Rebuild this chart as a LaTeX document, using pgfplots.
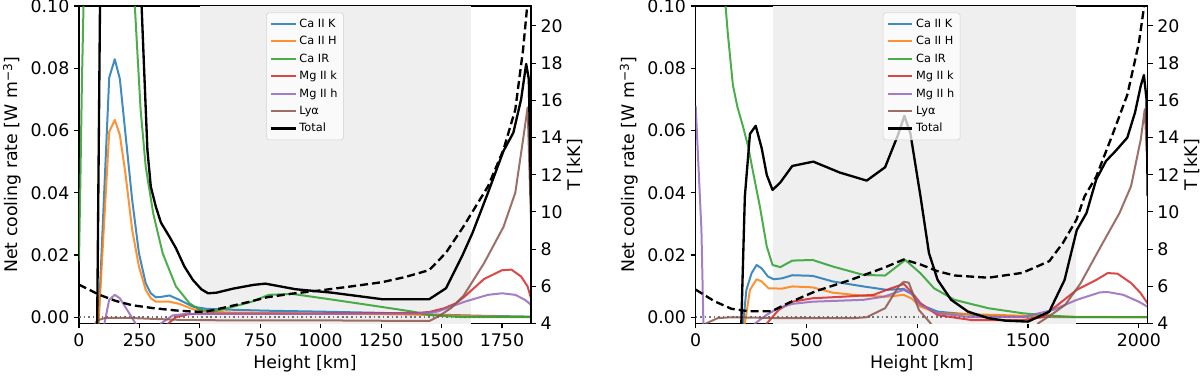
\documentclass[border=0pt]{standalone}
\usepackage{fontspec}
\setmainfont{DejaVu Sans}
\usepackage{pgfplots}
\pgfplotsset{compat=1.18}

\definecolor{cK}{HTML}{1F77B4}
\definecolor{cH}{HTML}{FF7F0E}
\definecolor{cIR}{HTML}{2CA02C}
\definecolor{mk}{HTML}{D62728}
\definecolor{mh}{HTML}{9467BD}
\definecolor{lya}{HTML}{8C564B}
\definecolor{shade}{HTML}{EFEFEF}

\pgfplotsset{
  base/.style={scale only axis, width=339pt, height=238.1pt,
    font=\fontsize{13}{15}\selectfont,
    tick label style={font=\fontsize{13}{15}\selectfont},
    /pgf/number format/assume math mode=true,
    /pgf/number format/1000 sep={},
    tick align=outside, major tick length=3.75pt,
    every tick/.style={black, line width=0.8pt},
    axis line style={line width=0.9pt},
    every axis plot/.append style={no marks, line join=round}},
  main/.style={base, anchor=south west,
    ymin=-0.002, ymax=0.1, ytick={0,0.02,0.04,0.06,0.08,0.1},
    scaled y ticks=false,
    yticklabel style={/pgf/number format/.cd, fixed, fixed zerofill, precision=2},
    xtick pos=bottom, ytick pos=left,
    xlabel={Height [km]}, ylabel={Net cooling rate [W m\textsuperscript{−3}]},
    legend cell align=left,
    legend image code/.code={\draw[##1] (0pt,0pt) -- (18.5pt,0pt);},
    legend style={at={(0.5,0.979)}, anchor=north,
      font=\fontsize{8.5}{10}\selectfont,
      fill=white, fill opacity=0.75, text opacity=1, draw=black!18,
      rounded corners=2pt, row sep=1.2pt, inner sep=2.5pt}},
  twin/.style={base, anchor=south west, ymin=4, ymax=21.07, ytick={4,6,...,20},
    axis y line*=right, axis x line=none, yticklabel pos=right,
    ylabel={T [kK]},
    ylabel style={at={(axis description cs:1.098,0.5)}, anchor=center}},
  cl/.style={line width=1.5pt, opacity=0.85},
  tot/.style={black, line width=1.75pt},
  temp/.style={black, line width=1.75pt, dash pattern=on 6pt off 3pt},
  zero/.style={black!55, line width=1.2pt, dash pattern=on 1.2pt off 2.2pt}
}

\begin{document}
\begin{tikzpicture}
\useasboundingbox (-59.25pt,-42.4pt) rectangle (840.75pt,242.6pt);

% ---------- left panel ----------
\begin{axis}[main, at={(0pt,0pt)}, xmin=0, xmax=1870, xtick={0,250,...,1750}]
  \addplot[fill=shade, draw=none, forget plot] coordinates {(500,-0.01) (1620,-0.01) (1620,0.2) (500,0.2)} -- cycle;
  \addplot[zero, forget plot] coordinates {(0,0) (1870,0)};
  \addplot[cl, cK] coordinates {(80,-0.003) (125,0.077) (148,0.0829) (169,0.0766) (192,0.0591) (220,0.0377) (248,0.0206) (276,0.0109) (297,0.0077) (318,0.0064) (345,0.0066) (374,0.0070) (415,0.0056) (471,0.0034) (527,0.0027) (638,0.0024) (778,0.0021) (1000,0.0018) (1250,0.0014) (1500,0.0008) (1650,0.0005) (1870,0.0002)};
  \addlegendentry{Ca II K}
  \addplot[cl, cH] coordinates {(80,-0.003) (125,0.0596) (148,0.0634) (169,0.0586) (192,0.0463) (220,0.0281) (248,0.0163) (276,0.0088) (297,0.0061) (318,0.0050) (374,0.0050) (415,0.0043) (471,0.0026) (527,0.0018) (638,0.0015) (778,0.0014) (1000,0.0012) (1250,0.0010) (1500,0.0007) (1650,0.0003) (1870,0.0001)};
  \addlegendentry{Ca II H}
  \addplot[cl, cIR] coordinates {(0,0.018) (6,0.045) (12,0.075) (20,0.105) (60,0.2) (200,0.2) (231,0.1) (241,0.0859) (255,0.0666) (276,0.0484) (307,0.0334) (346,0.0206) (401,0.0099) (457,0.0045) (499,0.0024) (555,0.0018) (638,0.0034) (715,0.0050) (785,0.0072) (882,0.0075) (1000,0.0062) (1150,0.0045) (1382,0.0018) (1451,0.0007) (1590,0.0000) (1870,0.0)};
  \addlegendentry{Ca IR}
  \addplot[cl, mk] coordinates {(340,-0.004) (370,-0.002) (400,0.0) (450,0.0009) (500,0.0012) (1000,0.0012) (1400,0.0014) (1450,0.0017) (1511,0.0029) (1560,0.0045) (1596,0.0067) (1676,0.0123) (1750,0.0151) (1789,0.0153) (1829,0.0131) (1856,0.0099) (1870,0.0061)};
  \addlegendentry{Mg II k}
  \addplot[cl, mh] coordinates {(100,-0.004) (125,0.0056) (148,0.0072) (169,0.0061) (199,0.0024) (234,-0.002) (250,-0.004) (320,-0.004) (339,-0.002) (388,0.0006) (443,0.0011) (1000,0.0011) (1400,0.0012) (1483,0.0018) (1596,0.005) (1692,0.0072) (1750,0.0077) (1805,0.0072) (1845,0.0056) (1870,0.004)};
  \addlegendentry{Mg II h}
  \addplot[cl, lya] coordinates {(55,-0.004) (75,-0.001) (110,-0.0002) (200,-0.0002) (400,-0.0008) (600,-0.001) (1000,-0.001) (1400,-0.0012) (1450,-0.0012) (1490,0.0004) (1540,0.003) (1590,0.0068) (1676,0.0174) (1756,0.029) (1805,0.040) (1837,0.057) (1856,0.0674) (1870,0.031)};
  \addlegendentry{Lyα}
  \addplot[tot] coordinates {(75,-0.004) (88,0.11) (150,0.3) (240,0.2) (259,0.1) (269,0.0805) (283,0.0538) (297,0.042) (318,0.0355) (339,0.0304) (374,0.0259) (401,0.0222) (436,0.0163) (471,0.012) (506,0.009) (534,0.0077) (569,0.0079) (638,0.0092) (722,0.0104) (771,0.0108) (896,0.0090) (1046,0.0079) (1254,0.0058) (1449,0.0058) (1518,0.0093) (1587,0.0200) (1628,0.0271) (1692,0.040) (1756,0.0534) (1797,0.0593) (1829,0.070) (1850,0.0814) (1861,0.0765) (1870,0.0378)};
  \addlegendentry{Total}
\end{axis}
\begin{axis}[twin, at={(0pt,0pt)}, xmin=0, xmax=1870]
  \addplot[temp] coordinates {(0,6.09) (81,5.56) (150,5.22) (220,4.98) (310,4.82) (400,4.70) (470,4.64) (520,4.62) (600,4.85) (700,5.15) (778,5.41) (880,5.6) (1000,5.78) (1130,6.0) (1254,6.22) (1350,6.5) (1449,6.87) (1518,7.8) (1590,9.2) (1692,11.37) (1756,13.34) (1805,15.5) (1837,18.7) (1856,21.3)};
\end{axis}

% ---------- right panel ----------
\begin{axis}[main, at={(462.5pt,0pt)}, xmin=0, xmax=2040, xtick={0,500,...,2000}]
  \addplot[fill=shade, draw=none, forget plot] coordinates {(350,-0.01) (1715,-0.01) (1715,0.2) (350,0.2)} -- cycle;
  \addplot[zero, forget plot] coordinates {(0,0) (2040,0)};
  \addplot[cl, cK] coordinates {(200,-0.006) (214,-0.002) (229,0.0088) (252,0.0141) (275,0.0168) (298,0.0157) (326,0.0131) (352,0.0122) (390,0.0125) (436,0.0135) (528,0.0133) (619,0.0115) (757,0.0099) (862,0.0088) (939,0.0091) (975,0.0075) (1015,0.0040) (1092,0.0018) (1245,0.0008) (1474,0.0002) (1700,0.0) (2040,0.0)};
  \addlegendentry{Ca II K}
  \addplot[cl, cH] coordinates {(205,-0.006) (222,-0.002) (245,0.0088) (275,0.0122) (298,0.0115) (329,0.0093) (390,0.0092) (436,0.0099) (528,0.0096) (619,0.0079) (757,0.0069) (862,0.0066) (939,0.0072) (975,0.0060) (1015,0.0034) (1092,0.0013) (1321,0.0008) (1627,0.0002) (2040,0.0)};
  \addlegendentry{Ca II H}
  \addplot[cl, cIR] coordinates {(100,0.2) (135,0.1) (145,0.0912) (168,0.0746) (188,0.0677) (214,0.0612) (237,0.0548) (260,0.0463) (290,0.0355) (321,0.0227) (347,0.0168) (382,0.0161) (436,0.0182) (528,0.0184) (619,0.0163) (757,0.0136) (855,0.0134) (946,0.0184) (1015,0.0141) (1076,0.0093) (1168,0.0056) (1321,0.0029) (1474,0.0013) (1566,0.0007) (1719,0.0) (2040,0.0)};
  \addlegendentry{Ca IR}
  \addplot[cl, mk] coordinates {(300,-0.006) (321,-0.002) (375,0.0024) (436,0.005) (528,0.0061) (665,0.0066) (803,0.0072) (862,0.0088) (939,0.0107) (975,0.008) (1015,0.0045) (1092,0.0007) (1245,-0.0009) (1474,-0.0009) (1566,0.0) (1615,0.0029) (1720,0.0088) (1808,0.012) (1860,0.0142) (1904,0.014) (1965,0.011) (2009,0.0077) (2039,0.0045)};
  \addlegendentry{Mg II k}
  \addplot[cl, mh] coordinates {(0,0.068) (26,0.028) (35,-0.002) (40,-0.006) (250,-0.006) (268,-0.002) (321,0.0008) (375,0.003) (436,0.0043) (528,0.005) (757,0.0056) (849,0.0066) (939,0.0088) (975,0.0075) (1015,0.004) (1092,0.0013) (1245,0.0) (1474,0.0) (1615,0.0024) (1720,0.0056) (1825,0.008) (1860,0.0081) (1930,0.0072) (2000,0.005) (2039,0.0034)};
  \addlegendentry{Mg II h}
  \addplot[cl, lya] coordinates {(30,-0.006) (46,-0.002) (99,-0.0003) (161,0.0) (390,-0.0003) (709,-0.0003) (771,0.0) (855,0.0029) (916,0.0099) (939,0.0114) (962,0.0111) (1008,0.0023) (1061,-0.002) (1080,-0.006) (1530,-0.006) (1545,-0.002) (1615,0.0013) (1668,0.004) (1738,0.011) (1825,0.0223) (1913,0.0335) (1965,0.0421) (2009,0.0572) (2027,0.0669) (2039,0.0486)};
  \addlegendentry{Lyα}
  \addplot[tot] coordinates {(195,-0.006) (206,-0.002) (222,0.0388) (245,0.0589) (271,0.0615) (298,0.0543) (321,0.0457) (347,0.0409) (382,0.0433) (436,0.0486) (531,0.05) (650,0.0465) (772,0.0439) (855,0.0482) (916,0.0591) (942,0.0647) (969,0.0591) (1015,0.0387) (1053,0.0206) (1092,0.012) (1153,0.0056) (1229,0.0018) (1321,-0.0003) (1398,-0.0011) (1500,-0.0014) (1596,0.0018) (1665,0.012) (1720,0.028) (1764,0.0335) (1808,0.0443) (1852,0.0502) (1895,0.0534) (1948,0.0577) (1983,0.0658) (2009,0.0744) (2023,0.0778) (2035,0.070) (2040,0.039)};
  \addlegendentry{Total}
\end{axis}
\begin{axis}[twin, at={(462.5pt,0pt)}, xmin=0, xmax=2040]
  \addplot[temp] coordinates {(0,5.82) (84,5.2) (161,4.79) (237,4.66) (344,4.66) (420,5.11) (543,5.74) (696,6.33) (849,6.99) (939,7.44) (1015,7.17) (1092,6.81) (1168,6.58) (1321,6.46) (1474,6.72) (1596,7.35) (1658,8.34) (1719,9.59) (1755,10.83) (1808,11.9) (1878,14.05) (1948,16.29) (2000,19.06) (2027,21.3)};
\end{axis}
\end{tikzpicture}
\end{document}
